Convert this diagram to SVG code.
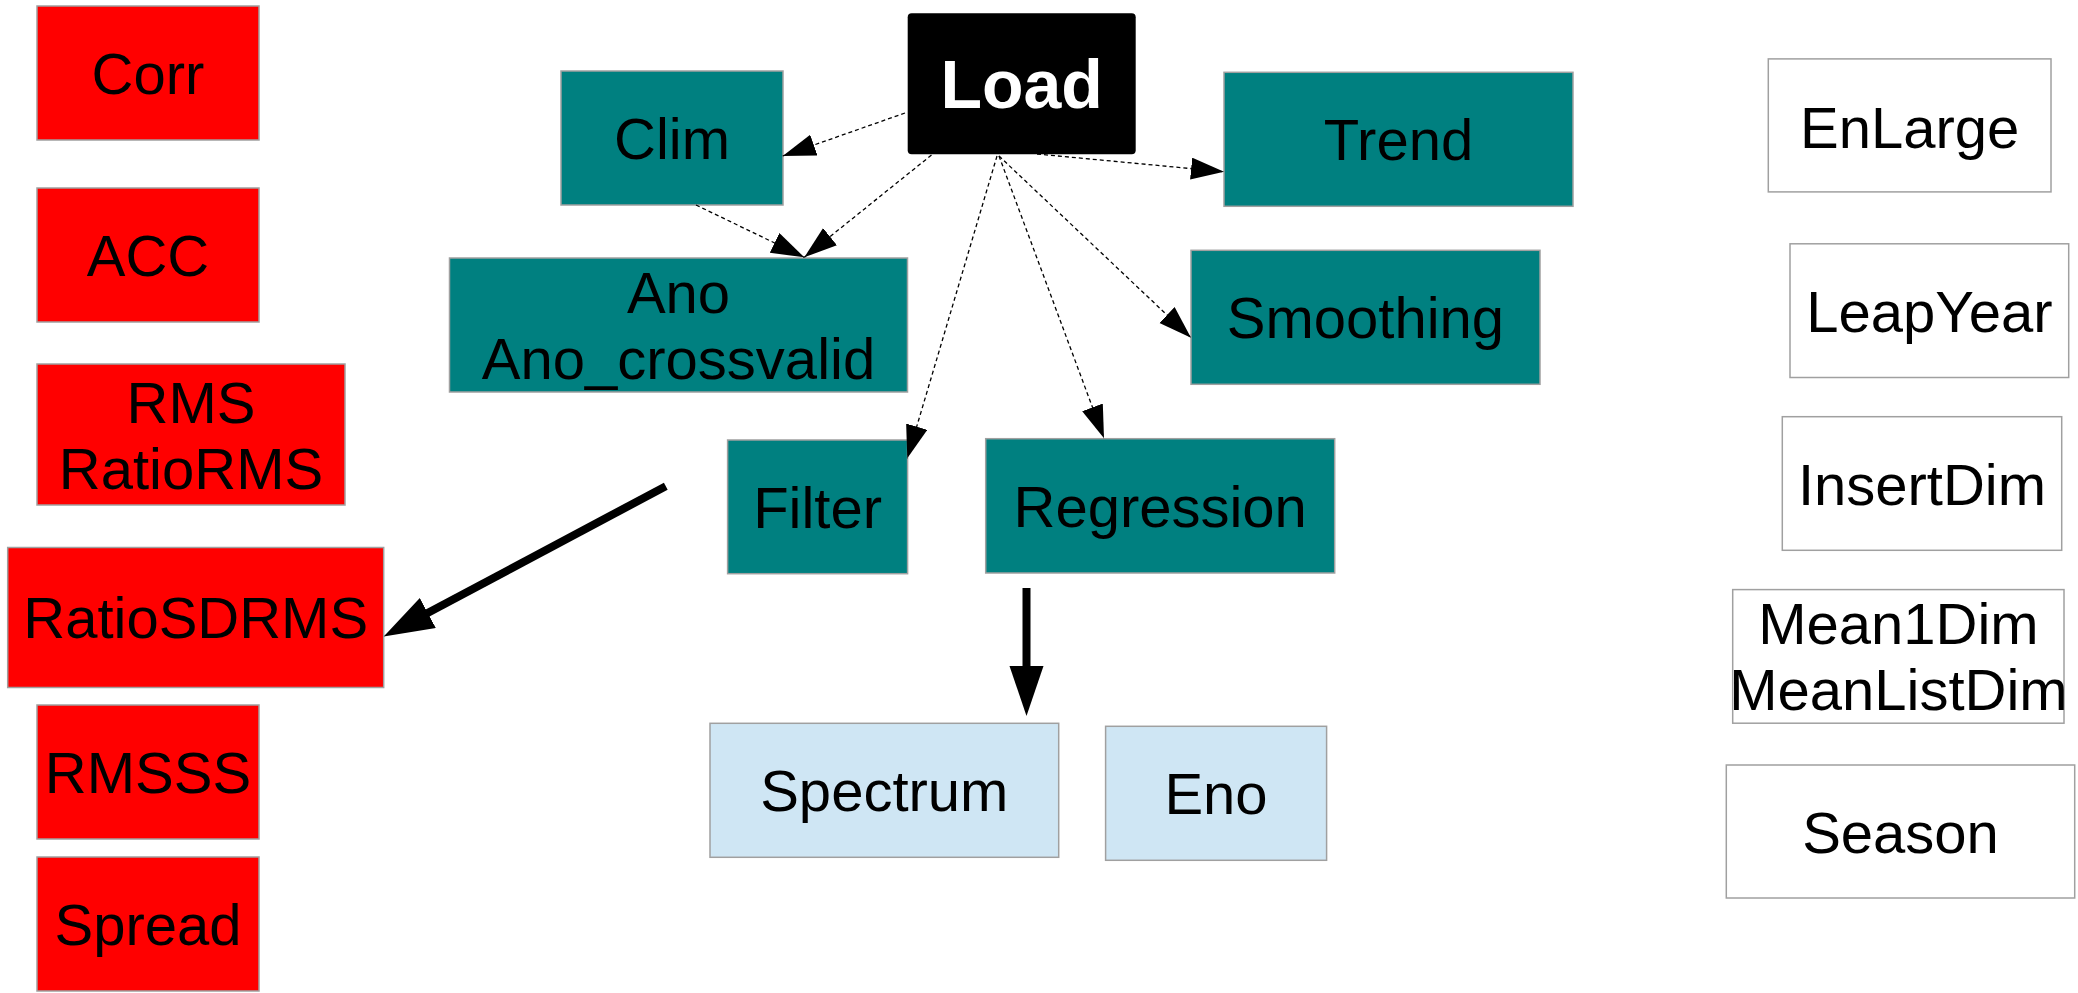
<svg xmlns="http://www.w3.org/2000/svg" width="2078" height="993" viewBox="0 0 2078 993">
  <defs>
    <style>
      .box { stroke: #a0a0a0; stroke-width: 1.5; }
      .red { fill: #ff0000; }
      .teal { fill: #008080; }
      .pale { fill: #cfe6f4; }
      .plain { fill: #ffffff; }
      .lbl { font-family: "Liberation Sans", Arial, sans-serif; font-size: 58px; fill: #000000; text-anchor: middle; }
      .head { font-family: "Liberation Sans", Arial, sans-serif; font-size: 68px; font-weight: bold; fill: #ffffff; text-anchor: middle; }
      .dash { fill: none; stroke: #000000; stroke-width: 1.3; stroke-dasharray: 4 3; marker-end: url(#tip); }
      .bold { fill: none; stroke: #000000; stroke-width: 8; marker-end: url(#bigtip); }
    </style>
    <marker id="tip" markerUnits="userSpaceOnUse" markerWidth="34" markerHeight="24" refX="33" refY="11" orient="auto">
      <path d="M0,0 L33,11 L0,22 z" fill="#000000"/>
    </marker>
    <marker id="bigtip" markerUnits="userSpaceOnUse" markerWidth="52" markerHeight="36" refX="4" refY="17" orient="auto">
      <path d="M0,0 L50,17 L0,34 z" fill="#000000"/>
    </marker>
  </defs>

  <rect width="2078" height="993" fill="#ffffff"/>

  <!-- verification functions -->
  <g id="corr"><rect class="box red" x="37" y="6" width="222" height="134"/><text class="lbl" x="148" y="94">Corr</text></g>
  <g id="acc"><rect class="box red" x="37" y="188" width="222" height="134"/><text class="lbl" x="148" y="276">ACC</text></g>
  <g id="rms"><rect class="box red" x="37" y="364" width="308" height="141"/><text class="lbl" x="191" y="422.5">RMS</text><text class="lbl" x="191" y="488.5">RatioRMS</text></g>
  <g id="ratiosdrms"><rect class="box red" x="7.7" y="547.5" width="376" height="140"/><text class="lbl" x="195.7" y="638">RatioSDRMS</text></g>
  <g id="rmsss"><rect class="box red" x="37" y="705" width="222" height="134"/><text class="lbl" x="148" y="793">RMSSS</text></g>
  <g id="spread"><rect class="box red" x="37" y="857" width="222" height="134"/><text class="lbl" x="148" y="945">Spread</text></g>

  <!-- loading and processing -->
  <g id="load"><rect x="907.7" y="13.3" width="228" height="141" rx="4" ry="4" fill="#000000"/><text class="head" x="1021.6" y="108.3">Load</text></g>
  <g id="clim"><rect class="box teal" x="561" y="71" width="222" height="134"/><text class="lbl" x="672" y="159">Clim</text></g>
  <g id="ano"><rect class="box teal" x="449.5" y="258" width="458" height="134"/><text class="lbl" x="678.5" y="313">Ano</text><text class="lbl" x="678.5" y="379">Ano_crossvalid</text></g>
  <g id="trend"><rect class="box teal" x="1224" y="72.3" width="349" height="134"/><text class="lbl" x="1398.5" y="160">Trend</text></g>
  <g id="smoothing"><rect class="box teal" x="1191" y="250.3" width="349" height="134"/><text class="lbl" x="1365.5" y="338">Smoothing</text></g>
  <g id="filter"><rect class="box teal" x="727.6" y="440" width="180" height="133.7"/><text class="lbl" x="817.6" y="527.5">Filter</text></g>
  <g id="regression"><rect class="box teal" x="985.7" y="438.7" width="349" height="134.3"/><text class="lbl" x="1160.2" y="526.8">Regression</text></g>

  <!-- spectral tools -->
  <g id="spectrum"><rect class="box pale" x="710" y="723.3" width="348.7" height="134"/><text class="lbl" x="884.3" y="811">Spectrum</text></g>
  <g id="eno"><rect class="box pale" x="1105.6" y="726.3" width="221" height="134"/><text class="lbl" x="1216" y="814">Eno</text></g>

  <!-- utilities -->
  <g id="enlarge"><rect class="box plain" x="1768.3" y="58.9" width="282.7" height="133"/><text class="lbl" x="1909.7" y="147.5">EnLarge</text></g>
  <g id="leapyear"><rect class="box plain" x="1790" y="243.8" width="278.7" height="133.7"/><text class="lbl" x="1929.4" y="332">LeapYear</text></g>
  <g id="insertdim"><rect class="box plain" x="1782.3" y="416.7" width="279.4" height="133.6"/><text class="lbl" x="1922" y="505">InsertDim</text></g>
  <g id="meandim"><rect class="box plain" x="1732.7" y="589.6" width="331.3" height="133.6"/><text class="lbl" x="1898.4" y="644.4">Mean1Dim</text><text class="lbl" x="1898.4" y="710">MeanListDim</text></g>
  <g id="season"><rect class="box plain" x="1726.3" y="765" width="348.4" height="133"/><text class="lbl" x="1900.5" y="853">Season</text></g>

  <!-- connectors -->
  <g id="connectors">
    <path class="dash" d="M905,113 L782.7,156"/>
    <path class="dash" d="M931.5,155 L804.3,257.3"/>
    <path class="dash" d="M696,205 L804.3,257.3"/>
    <path class="dash" d="M1037,154 L1224,171.7"/>
    <path class="dash" d="M999,156 L1191,337.7"/>
    <path class="dash" d="M999,156 L1104,438.3"/>
    <path class="dash" d="M997,156 L907.3,458.3"/>
    <path class="bold" d="M665.8,486.2 L424.3,614.8"/>
    <path class="bold" d="M1026.5,588 L1026.5,670"/>
  </g>
</svg>
